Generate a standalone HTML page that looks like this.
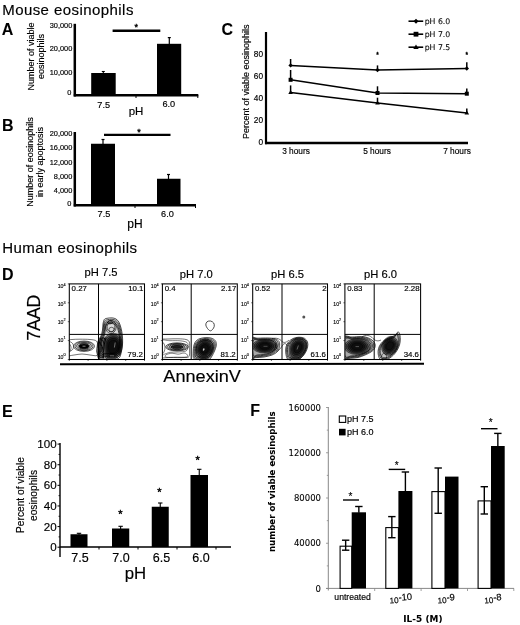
<!DOCTYPE html>
<html><head><meta charset="utf-8"><title>Figure</title>
<style>html,body{margin:0;padding:0;background:#fff}svg{display:block}text{font-family:"Liberation Sans",Arial,sans-serif;stroke:#000;stroke-width:.16px}text.v{font-family:"DejaVu Sans",Verdana,sans-serif;stroke-width:.08px}</style></head>
<body><svg width="520" height="625" viewBox="0 0 520 625">
<rect width="520" height="625" fill="#fff"/>
<text x="2.2" y="14.7" font-size="15" textLength="131.2" lengthAdjust="spacing">Mouse eosinophils</text>
<text x="2.2" y="253.3" font-size="15" textLength="134.8" lengthAdjust="spacing">Human eosinophils</text>
<text x="1.8" y="34.8" font-size="16" font-weight="bold" style="stroke-width:.06px">A</text>
<text x="2" y="131" font-size="16" font-weight="bold" style="stroke-width:.06px">B</text>
<text x="221.5" y="35" font-size="16" font-weight="bold" style="stroke-width:.06px">C</text>
<text x="2" y="279.7" font-size="16" font-weight="bold" style="stroke-width:.06px">D</text>
<text x="2" y="417" font-size="16" font-weight="bold" style="stroke-width:.06px">E</text>
<text x="250.3" y="416" font-size="16" font-weight="bold" style="stroke-width:.06px">F</text>
<line x1="74.8" y1="23.8" x2="74.8" y2="96.5" stroke="#000" stroke-width="2.5" stroke-linecap="butt"/>
<line x1="73.8" y1="95.2" x2="198.3" y2="95.2" stroke="#000" stroke-width="2.5" stroke-linecap="butt"/>
<text x="72.3" y="27.6" font-size="7.4" text-anchor="end">30,000</text>
<text x="72.3" y="51.1" font-size="7.4" text-anchor="end">20,000</text>
<text x="72.3" y="74.6" font-size="7.4" text-anchor="end">10,000</text>
<text x="71.3" y="95.1" font-size="7.4" text-anchor="end">0</text>
<text x="33.5" y="56.5" font-size="9" text-anchor="middle" transform="rotate(-90 33.5 56.5)">Number of viable</text>
<text x="43.9" y="56.4" font-size="9" text-anchor="middle" transform="rotate(-90 43.9 56.4)">eosinophils</text>
<rect x="91.2" y="73" width="24.5" height="22" fill="#000"/>
<line x1="103.3" y1="71.5" x2="103.3" y2="73" stroke="#000" stroke-width="1.1" stroke-linecap="butt"/>
<line x1="101.8" y1="71.5" x2="104.8" y2="71.5" stroke="#000" stroke-width="1.1" stroke-linecap="butt"/>
<rect x="157" y="43.8" width="24.2" height="51" fill="#000"/>
<line x1="169.3" y1="37.6" x2="169.3" y2="45" stroke="#000" stroke-width="1.2" stroke-linecap="butt"/>
<line x1="167.8" y1="37.6" x2="170.8" y2="37.6" stroke="#000" stroke-width="1.2" stroke-linecap="butt"/>
<line x1="112.6" y1="30.8" x2="160.3" y2="30.8" stroke="#000" stroke-width="2.4" stroke-linecap="butt"/>
<text x="136.2" y="29.8" font-size="9" text-anchor="middle" style="stroke-width:.4px">*</text>
<text x="103.7" y="107.5" font-size="9.2" text-anchor="middle">7.5</text>
<text x="168.8" y="107.2" font-size="9.2" text-anchor="middle">6.0</text>
<text x="136" y="114.5" font-size="11.5" text-anchor="middle">pH</text>
<line x1="136" y1="95" x2="136" y2="98" stroke="#000" stroke-width="1" stroke-linecap="butt"/>
<line x1="197.8" y1="95" x2="197.8" y2="98" stroke="#000" stroke-width="1" stroke-linecap="butt"/>
<line x1="74.8" y1="132" x2="74.8" y2="206.5" stroke="#000" stroke-width="2.5" stroke-linecap="butt"/>
<line x1="73.8" y1="205.2" x2="196" y2="205.2" stroke="#000" stroke-width="2.5" stroke-linecap="butt"/>
<text x="72.3" y="136.35" font-size="7.4" text-anchor="end">20,000</text>
<text x="72.3" y="150.1" font-size="7.4" text-anchor="end">16,000</text>
<text x="72.3" y="164.6" font-size="7.4" text-anchor="end">12,000</text>
<text x="72.3" y="178.6" font-size="7.4" text-anchor="end">8,000</text>
<text x="72.3" y="193.1" font-size="7.4" text-anchor="end">4,000</text>
<text x="71.3" y="206.1" font-size="7.4" text-anchor="end">0</text>
<text x="32.8" y="162" font-size="9" text-anchor="middle" transform="rotate(-90 32.8 162)">Number of eosinophils</text>
<text x="42.8" y="162" font-size="9" text-anchor="middle" transform="rotate(-90 42.8 162)">in early apoptosis</text>
<rect x="91" y="143.75" width="24" height="61" fill="#000"/>
<line x1="103" y1="139.5" x2="103" y2="144" stroke="#000" stroke-width="1.2" stroke-linecap="butt"/>
<line x1="101.5" y1="139.5" x2="104.5" y2="139.5" stroke="#000" stroke-width="1.2" stroke-linecap="butt"/>
<rect x="157" y="178.75" width="23.5" height="26" fill="#000"/>
<line x1="168.5" y1="174.5" x2="168.5" y2="179" stroke="#000" stroke-width="1.2" stroke-linecap="butt"/>
<line x1="167.0" y1="174.5" x2="170.0" y2="174.5" stroke="#000" stroke-width="1.2" stroke-linecap="butt"/>
<line x1="104" y1="134.9" x2="170.5" y2="134.9" stroke="#000" stroke-width="2.4" stroke-linecap="butt"/>
<text x="139" y="134.8" font-size="9" text-anchor="middle" style="stroke-width:.4px">*</text>
<text x="104" y="216.5" font-size="9.2" text-anchor="middle">7.5</text>
<text x="167.5" y="216.5" font-size="9.2" text-anchor="middle">6.0</text>
<text x="135" y="227.8" font-size="12" text-anchor="middle">pH</text>
<line x1="135" y1="205" x2="135" y2="208" stroke="#000" stroke-width="1" stroke-linecap="butt"/>
<line x1="195.5" y1="205" x2="195.5" y2="208" stroke="#000" stroke-width="1" stroke-linecap="butt"/>
<line x1="266" y1="32" x2="266" y2="144.2" stroke="#000" stroke-width="2.2" stroke-linecap="butt"/>
<line x1="265" y1="143" x2="468" y2="143" stroke="#000" stroke-width="2.4" stroke-linecap="butt"/>
<text x="263" y="56.9" font-size="8.3" text-anchor="end">80</text>
<text x="263" y="79.3" font-size="8.3" text-anchor="end">60</text>
<text x="263" y="101.2" font-size="8.3" text-anchor="end">40</text>
<text x="263" y="123.1" font-size="8.3" text-anchor="end">20</text>
<text x="263" y="145.4" font-size="8.3" text-anchor="end">0</text>
<text x="249.0" y="81.8" font-size="9" text-anchor="middle" transform="rotate(-90 249.0 81.8)">Percent of viable eosinophils</text>
<polyline points="290.6,65.4 377.5,70 466.8,68.5" fill="none" stroke="#000" stroke-width="1.5"/>
<polyline points="290.6,79.8 377.5,93 466.8,93.7" fill="none" stroke="#000" stroke-width="1.5"/>
<polyline points="290.6,92.5 377.5,103 466.8,113" fill="none" stroke="#000" stroke-width="1.5"/>
<line x1="290.6" y1="59" x2="290.6" y2="65.4" stroke="#000" stroke-width="1.5" stroke-linecap="butt"/>
<path d="M290.6 63.2L292.8 65.4L290.6 67.60000000000001L288.40000000000003 65.4Z"/>
<line x1="377.5" y1="65.4" x2="377.5" y2="70" stroke="#000" stroke-width="1.5" stroke-linecap="butt"/>
<path d="M377.5 67.8L379.7 70L377.5 72.2L375.3 70Z"/>
<line x1="466.8" y1="62.3" x2="466.8" y2="68.5" stroke="#000" stroke-width="1.5" stroke-linecap="butt"/>
<path d="M466.8 66.3L469.0 68.5L466.8 70.7L464.6 68.5Z"/>
<line x1="290.6" y1="70" x2="290.6" y2="79.8" stroke="#000" stroke-width="1.5" stroke-linecap="butt"/>
<rect x="288.6" y="77.8" width="4" height="4" fill="#000"/>
<line x1="377.5" y1="86.3" x2="377.5" y2="93" stroke="#000" stroke-width="1.5" stroke-linecap="butt"/>
<rect x="375.5" y="91" width="4" height="4" fill="#000"/>
<line x1="466.8" y1="88.5" x2="466.8" y2="93.7" stroke="#000" stroke-width="1.5" stroke-linecap="butt"/>
<rect x="464.8" y="91.7" width="4" height="4" fill="#000"/>
<line x1="290.6" y1="85.4" x2="290.6" y2="92.5" stroke="#000" stroke-width="1.5" stroke-linecap="butt"/>
<path d="M290.6 90.0L292.90000000000003 94.0L288.3 94.0Z"/>
<line x1="377.5" y1="97.7" x2="377.5" y2="103" stroke="#000" stroke-width="1.5" stroke-linecap="butt"/>
<path d="M377.5 100.5L379.8 104.5L375.2 104.5Z"/>
<line x1="466.8" y1="108.5" x2="466.8" y2="113" stroke="#000" stroke-width="1.5" stroke-linecap="butt"/>
<path d="M466.8 110.5L469.1 114.5L464.5 114.5Z"/>
<text x="377.5" y="57.15" font-size="6.5" text-anchor="middle" style="stroke-width:.4px">*</text>
<text x="466.7" y="57.15" font-size="6.5" text-anchor="middle" style="stroke-width:.4px">*</text>
<text x="296" y="154" font-size="8.3" text-anchor="middle">3 hours</text>
<text x="377" y="154" font-size="8.3" text-anchor="middle">5 hours</text>
<text x="457" y="154" font-size="8.3" text-anchor="middle">7 hours</text>
<line x1="408.5" y1="21.2" x2="423.2" y2="21.2" stroke="#000" stroke-width="1.6" stroke-linecap="butt"/>
<path d="M416 18.7L418.5 21.2L416 23.7L413.5 21.2Z"/>
<text x="424.7" y="24.0" font-size="7.75" class="v">pH 6.0</text>
<line x1="408.5" y1="34.2" x2="423.2" y2="34.2" stroke="#000" stroke-width="1.6" stroke-linecap="butt"/>
<rect x="413.6" y="31.800000000000004" width="4.8" height="4.8" fill="#000"/>
<text x="424.7" y="37.0" font-size="7.75" class="v">pH 7.0</text>
<line x1="408.5" y1="47.2" x2="423.2" y2="47.2" stroke="#000" stroke-width="1.6" stroke-linecap="butt"/>
<path d="M416 44.400000000000006L418.7 48.900000000000006L413.3 48.900000000000006Z"/>
<text x="424.7" y="50.0" font-size="7.75" class="v">pH 7.5</text>
<text x="40" y="317.7" font-size="18" text-anchor="middle" transform="rotate(-90 40 317.7)" textLength="46" lengthAdjust="spacing">7AAD</text>
<text x="163.3" y="382.1" font-size="17" textLength="77.6" lengthAdjust="spacingAndGlyphs">AnnexinV</text>
<line x1="60" y1="364.3" x2="424" y2="363.8" stroke="#000" stroke-width="1.9" stroke-linecap="butt"/>
<text x="101" y="276.3" font-size="11.2" text-anchor="middle">pH 7.5</text>
<clipPath id="cp0"><rect x="69.3" y="283.9" width="75.2" height="75.60000000000002"/></clipPath><g clip-path="url(#cp0)">
<ellipse cx="84" cy="346.2" rx="10.50" ry="5.20" fill="none" stroke="#000" stroke-width="0.65"/>
<ellipse cx="84" cy="346.2" rx="9.03" ry="4.47" fill="none" stroke="#000" stroke-width="0.65"/>
<ellipse cx="84" cy="346.2" rx="7.56" ry="3.74" fill="none" stroke="#000" stroke-width="0.65"/>
<ellipse cx="84" cy="346.2" rx="6.09" ry="3.02" fill="none" stroke="#000" stroke-width="0.65"/>
<ellipse cx="84" cy="346.2" rx="4.83" ry="2.39" fill="none" stroke="#000" stroke-width="0.65"/>
<ellipse cx="84" cy="346.2" rx="4.80" ry="2.20" fill="#000" stroke="#000" stroke-width="0.55"/>
<line x1="82.5" y1="346.2" x2="85.5" y2="346.2" stroke="#ddd" stroke-width="0.6" stroke-linecap="butt"/>
<path d="M66.00 340.50C66.50 339.92 69.67 339.72 72.00 339.50C74.33 339.28 77.00 339.20 80.00 339.20C83.00 339.20 87.25 339.20 90.00 339.50C92.75 339.80 95.25 339.92 96.50 341.00C97.75 342.08 97.50 344.33 97.50 346.00C97.50 347.67 96.58 349.42 96.50 351.00C96.42 352.58 98.08 354.83 97.00 355.50C95.92 356.17 92.50 355.25 90.00 355.00C87.50 354.75 84.67 354.00 82.00 354.00C79.33 354.00 76.67 354.67 74.00 355.00C71.33 355.33 66.67 356.67 66.00 356.00C65.33 355.33 69.17 352.50 70.00 351.00C70.83 349.50 71.17 348.33 71.00 347.00C70.83 345.67 69.83 344.08 69.00 343.00C68.17 341.92 65.50 341.08 66.00 340.50Z" fill="none" stroke="#000" stroke-width="0.55"/>
<path d="M69.00 342.00C69.67 340.83 72.33 342.83 73.00 344.00C73.67 345.17 73.67 347.83 73.00 349.00C72.33 350.17 69.67 352.17 69.00 351.00C68.33 349.83 68.33 343.17 69.00 342.00Z" fill="none" stroke="#000" stroke-width="0.5"/>
<path d="M107.00 318.30C108.28 318.03 110.50 317.78 112.00 317.90C113.50 318.02 114.83 318.27 116.00 319.00C117.17 319.73 118.17 320.80 119.00 322.30C119.83 323.80 120.45 325.88 121.00 328.00C121.55 330.12 122.03 332.50 122.30 335.00C122.57 337.50 122.73 340.33 122.60 343.00C122.47 345.67 122.18 348.42 121.50 351.00C120.82 353.58 120.75 357.08 118.50 358.50C116.25 359.92 111.25 359.50 108.00 359.50C104.75 359.50 100.78 359.75 99.00 358.50C97.22 357.25 97.58 354.25 97.30 352.00C97.02 349.75 97.10 347.00 97.30 345.00C97.50 343.00 97.88 341.50 98.50 340.00C99.12 338.50 100.33 337.67 101.00 336.00C101.67 334.33 102.17 332.00 102.50 330.00C102.83 328.00 102.70 325.75 103.00 324.00C103.30 322.25 103.63 320.45 104.30 319.50C104.97 318.55 105.72 318.57 107.00 318.30Z" fill="none" stroke="#000" stroke-width="0.7"/>
<path d="M107.31 319.68C108.51 319.43 110.57 319.20 111.97 319.31C113.36 319.42 114.60 319.65 115.69 320.33C116.77 321.01 117.70 322.00 118.47 323.40C119.25 324.79 119.82 326.73 120.34 328.70C120.85 330.67 121.30 332.88 121.54 335.21C121.79 337.53 121.95 340.17 121.82 342.65C121.70 345.13 121.44 347.69 120.80 350.09C120.16 352.49 120.10 355.75 118.01 357.06C115.92 358.38 111.27 358.00 108.25 358.00C105.22 358.00 101.53 358.23 99.88 357.06C98.22 355.90 98.56 353.11 98.29 351.02C98.03 348.93 98.11 346.37 98.29 344.51C98.48 342.65 98.84 341.25 99.41 339.86C99.98 338.47 101.11 337.69 101.73 336.14C102.36 334.59 102.82 332.42 103.13 330.56C103.44 328.70 103.32 326.61 103.59 324.98C103.87 323.35 104.18 321.68 104.80 320.80C105.42 319.91 106.12 319.93 107.31 319.68Z" fill="rgba(0,0,0,0.04)" stroke="#000" stroke-width="0.7"/>
<path d="M107.63 321.06C108.73 320.83 110.64 320.61 111.93 320.71C113.22 320.81 114.37 321.03 115.37 321.66C116.37 322.29 117.23 323.21 117.95 324.50C118.67 325.79 119.20 327.58 119.67 329.40C120.14 331.22 120.56 333.27 120.79 335.42C121.02 337.57 121.16 340.01 121.05 342.30C120.93 344.59 120.69 346.96 120.10 349.18C119.51 351.40 119.45 354.41 117.52 355.63C115.58 356.85 111.28 356.49 108.49 356.49C105.69 356.49 102.28 356.70 100.75 355.63C99.22 354.56 99.53 351.98 99.29 350.04C99.04 348.11 99.12 345.74 99.29 344.02C99.46 342.30 99.79 341.01 100.32 339.72C100.85 338.43 101.90 337.71 102.47 336.28C103.04 334.85 103.47 332.84 103.76 331.12C104.05 329.40 103.93 327.46 104.19 325.96C104.45 324.45 104.73 322.91 105.31 322.09C105.88 321.27 106.53 321.29 107.63 321.06Z" fill="rgba(0,0,0,0.04)" stroke="#000" stroke-width="0.7"/>
<path d="M107.94 322.44C108.96 322.23 110.71 322.03 111.89 322.12C113.08 322.21 114.13 322.41 115.06 322.99C115.98 323.57 116.77 324.41 117.42 325.60C118.08 326.78 118.57 328.43 119.00 330.10C119.44 331.77 119.82 333.65 120.03 335.63C120.24 337.61 120.37 339.84 120.27 341.95C120.16 344.06 119.94 346.23 119.40 348.27C118.86 350.31 118.81 353.08 117.03 354.19C115.25 355.31 111.30 354.99 108.73 354.99C106.17 354.99 103.03 355.18 101.62 354.19C100.22 353.21 100.51 350.84 100.28 349.06C100.06 347.28 100.12 345.11 100.28 343.53C100.44 341.95 100.74 340.76 101.23 339.58C101.72 338.39 102.68 337.74 103.20 336.42C103.73 335.10 104.13 333.26 104.39 331.68C104.65 330.10 104.55 328.32 104.78 326.94C105.02 325.56 105.29 324.14 105.81 323.38C106.34 322.63 106.93 322.65 107.94 322.44Z" fill="rgba(0,0,0,0.04)" stroke="#000" stroke-width="0.7"/>
<path d="M108.26 323.82C109.18 323.62 110.78 323.44 111.86 323.53C112.94 323.61 113.90 323.79 114.74 324.32C115.58 324.85 116.30 325.62 116.90 326.70C117.50 327.78 117.94 329.28 118.34 330.80C118.74 332.32 119.08 334.04 119.28 335.84C119.47 337.64 119.59 339.68 119.49 341.60C119.40 343.52 119.19 345.50 118.70 347.36C118.21 349.22 118.16 351.74 116.54 352.76C114.92 353.78 111.32 353.48 108.98 353.48C106.64 353.48 103.78 353.66 102.50 352.76C101.22 351.86 101.48 349.70 101.28 348.08C101.07 346.46 101.13 344.48 101.28 343.04C101.42 341.60 101.70 340.52 102.14 339.44C102.58 338.36 103.46 337.76 103.94 336.56C104.42 335.36 104.78 333.68 105.02 332.24C105.26 330.80 105.16 329.18 105.38 327.92C105.60 326.66 105.84 325.36 106.32 324.68C106.80 324.00 107.34 324.01 108.26 323.82Z" fill="rgba(0,0,0,0.04)" stroke="#000" stroke-width="0.7"/>
<ellipse cx="111" cy="327" rx="5.20" ry="6.50" fill="none" stroke="#000" stroke-width="0.6" transform="rotate(5 111 327)"/>
<ellipse cx="111" cy="327" rx="3.90" ry="4.88" fill="none" stroke="#000" stroke-width="0.6" transform="rotate(5 111 327)"/>
<ellipse cx="110" cy="322.3" rx="2.30" ry="1.60" fill="none" stroke="#000" stroke-width="0.55"/>
<ellipse cx="111.5" cy="329.5" rx="2.60" ry="2.20" fill="none" stroke="#000" stroke-width="0.55"/>
<path d="M105.50 337.00C106.75 335.30 108.95 334.23 111.00 333.80C113.05 333.37 116.00 333.37 117.80 334.40C119.60 335.43 121.10 337.73 121.80 340.00C122.50 342.27 122.38 345.42 122.00 348.00C121.62 350.58 120.83 353.67 119.50 355.50C118.17 357.33 116.17 358.45 114.00 359.00C111.83 359.55 108.20 359.97 106.50 358.80C104.80 357.63 104.30 354.47 103.80 352.00C103.30 349.53 103.22 346.50 103.50 344.00C103.78 341.50 104.25 338.70 105.50 337.00Z" fill="rgba(0,0,0,0.42)" stroke="#000" stroke-width="0.5"/>
<path d="M106.46 338.20C107.56 336.70 109.50 335.77 111.30 335.38C113.10 335.00 115.70 335.00 117.28 335.91C118.87 336.82 120.19 338.85 120.80 340.84C121.42 342.83 121.32 345.61 120.98 347.88C120.64 350.15 119.95 352.87 118.78 354.48C117.61 356.09 115.85 357.08 113.94 357.56C112.03 358.04 108.84 358.41 107.34 357.38C105.84 356.36 105.40 353.57 104.96 351.40C104.52 349.23 104.45 346.56 104.70 344.36C104.95 342.16 105.36 339.70 106.46 338.20Z" fill="rgba(0,0,0,0.42)" stroke="#000" stroke-width="0.5"/>
<path d="M107.42 339.40C108.37 338.11 110.04 337.30 111.60 336.97C113.16 336.64 115.40 336.64 116.77 337.42C118.14 338.21 119.28 339.96 119.81 341.68C120.34 343.40 120.25 345.80 119.96 347.76C119.67 349.72 119.07 352.07 118.06 353.46C117.05 354.85 115.53 355.70 113.88 356.12C112.23 356.54 109.47 356.85 108.18 355.97C106.89 355.08 106.51 352.67 106.13 350.80C105.75 348.93 105.68 346.62 105.90 344.72C106.12 342.82 106.47 340.69 107.42 339.40Z" fill="rgba(0,0,0,0.42)" stroke="#000" stroke-width="0.5"/>
<path d="M108.38 340.60C109.18 339.51 110.59 338.83 111.90 338.55C113.21 338.27 115.10 338.27 116.25 338.94C117.40 339.60 118.36 341.07 118.81 342.52C119.26 343.97 119.19 345.99 118.94 347.64C118.69 349.29 118.19 351.27 117.34 352.44C116.49 353.61 115.21 354.33 113.82 354.68C112.43 355.03 110.11 355.30 109.02 354.55C107.93 353.81 107.61 351.78 107.29 350.20C106.97 348.62 106.92 346.68 107.10 345.08C107.28 343.48 107.58 341.69 108.38 340.60Z" fill="rgba(0,0,0,0.42)" stroke="#000" stroke-width="0.5"/>
<path d="M109.50 342.00C110.12 341.15 111.22 340.62 112.25 340.40C113.28 340.18 114.75 340.18 115.65 340.70C116.55 341.22 117.30 342.37 117.65 343.50C118.00 344.63 117.94 346.21 117.75 347.50C117.56 348.79 117.17 350.33 116.50 351.25C115.83 352.17 114.83 352.73 113.75 353.00C112.67 353.27 110.85 353.48 110.00 352.90C109.15 352.32 108.90 350.73 108.65 349.50C108.40 348.27 108.36 346.75 108.50 345.50C108.64 344.25 108.88 342.85 109.50 342.00Z" fill="rgba(0,0,0,0.42)" stroke="#000" stroke-width="0.5"/>
<path d="M98.4 358.5 C97.80000000000001 350 98.9 343 100.9 337.5" fill="none" stroke="#000" stroke-width="0.95"/>
<path d="M99.7 358.5 C99.10000000000001 350 100.2 343 102.2 337.5" fill="none" stroke="#000" stroke-width="0.95"/>
<path d="M101 358.5 C100.4 350 101.5 343 103.5 337.5" fill="none" stroke="#000" stroke-width="0.95"/>
<path d="M102.3 358.5 C101.7 350 102.8 343 104.8 337.5" fill="none" stroke="#000" stroke-width="0.95"/>
<path d="M103.6 358.5 C103.0 350 104.1 343 106.1 337.5" fill="none" stroke="#000" stroke-width="0.95"/>
<path d="M115.2 342.5 L114.4 347.5" stroke="#999" stroke-width="0.7" fill="none"/>
<path d="M110 355.8 L114 355.8" stroke="#999" stroke-width="0.6" fill="none"/>
</g>
<rect x="69.3" y="283.9" width="75.2" height="75.60000000000002" fill="none" stroke="#000" stroke-width="1.05"/>
<line x1="98.5" y1="283.9" x2="98.5" y2="359.5" stroke="#000" stroke-width="1.0" stroke-linecap="butt"/>
<line x1="69.3" y1="334.4" x2="144.5" y2="334.4" stroke="#000" stroke-width="1.0" stroke-linecap="butt"/>
<text x="71.6" y="291.1" font-size="7.85">0.27</text>
<text x="143.5" y="291.1" font-size="7.85" text-anchor="end">10.1</text>
<rect x="128.0" y="350.8" width="15.8" height="8.2" fill="#fff"/>
<text x="142.9" y="357.4" font-size="7.85" text-anchor="end">79.2</text>
<text x="57.699999999999996" y="288.3" font-size="5.2" style="stroke-width:.12px">10</text>
<text x="63.4" y="285.6" font-size="3.8" style="stroke-width:.12px">4</text>
<text x="57.699999999999996" y="306.2" font-size="5.2" style="stroke-width:.12px">10</text>
<text x="63.4" y="303.5" font-size="3.8" style="stroke-width:.12px">3</text>
<text x="57.699999999999996" y="324.1" font-size="5.2" style="stroke-width:.12px">10</text>
<text x="63.4" y="321.40000000000003" font-size="3.8" style="stroke-width:.12px">2</text>
<text x="57.699999999999996" y="342.1" font-size="5.2" style="stroke-width:.12px">10</text>
<text x="63.4" y="339.40000000000003" font-size="3.8" style="stroke-width:.12px">1</text>
<text x="57.699999999999996" y="358.90000000000003" font-size="5.2" style="stroke-width:.12px">10</text>
<text x="63.4" y="356.20000000000005" font-size="3.8" style="stroke-width:.12px">0</text>
<line x1="67.8" y1="359.5" x2="69.3" y2="359.5" stroke="#000" stroke-width="0.6" stroke-linecap="butt"/>
<line x1="69.3" y1="359.5" x2="69.3" y2="361.0" stroke="#000" stroke-width="0.6" stroke-linecap="butt"/>
<line x1="67.8" y1="340.6" x2="69.3" y2="340.6" stroke="#000" stroke-width="0.6" stroke-linecap="butt"/>
<line x1="88.1" y1="359.5" x2="88.1" y2="361.0" stroke="#000" stroke-width="0.6" stroke-linecap="butt"/>
<line x1="67.8" y1="321.7" x2="69.3" y2="321.7" stroke="#000" stroke-width="0.6" stroke-linecap="butt"/>
<line x1="106.9" y1="359.5" x2="106.9" y2="361.0" stroke="#000" stroke-width="0.6" stroke-linecap="butt"/>
<line x1="67.8" y1="302.79999999999995" x2="69.3" y2="302.79999999999995" stroke="#000" stroke-width="0.6" stroke-linecap="butt"/>
<line x1="125.7" y1="359.5" x2="125.7" y2="361.0" stroke="#000" stroke-width="0.6" stroke-linecap="butt"/>
<line x1="67.8" y1="283.9" x2="69.3" y2="283.9" stroke="#000" stroke-width="0.6" stroke-linecap="butt"/>
<line x1="144.5" y1="359.5" x2="144.5" y2="361.0" stroke="#000" stroke-width="0.6" stroke-linecap="butt"/>
<text x="196.25" y="277.9" font-size="11.2" text-anchor="middle">pH 7.0</text>
<clipPath id="cp1"><rect x="162.4" y="283.9" width="74.9" height="75.60000000000002"/></clipPath><g clip-path="url(#cp1)">
<path d="M207.00 321.80C207.78 321.13 209.38 320.80 210.50 321.00C211.62 321.20 213.08 322.08 213.70 323.00C214.32 323.92 214.40 325.42 214.20 326.50C214.00 327.58 213.17 328.78 212.50 329.50C211.83 330.22 211.03 330.97 210.20 330.80C209.37 330.63 208.23 329.47 207.50 328.50C206.77 327.53 205.88 326.12 205.80 325.00C205.72 323.88 206.22 322.47 207.00 321.80Z" fill="none" stroke="#000" stroke-width="0.7"/>
<ellipse cx="177" cy="346.9" rx="11.20" ry="4.00" fill="none" stroke="#000" stroke-width="0.75"/>
<ellipse cx="177" cy="346.9" rx="9.41" ry="3.36" fill="none" stroke="#000" stroke-width="0.75"/>
<ellipse cx="177" cy="346.9" rx="7.62" ry="2.72" fill="none" stroke="#000" stroke-width="0.75"/>
<ellipse cx="177" cy="346.9" rx="5.82" ry="2.08" fill="none" stroke="#000" stroke-width="0.75"/>
<ellipse cx="177" cy="346.9" rx="4.03" ry="1.44" fill="none" stroke="#000" stroke-width="0.75"/>
<ellipse cx="177" cy="346.9" rx="6.50" ry="1.20" fill="#222" stroke="#000" stroke-width="0.55"/>
<path d="M160.00 339.50C160.75 338.83 165.00 339.12 168.00 339.00C171.00 338.88 175.00 338.72 178.00 338.80C181.00 338.88 184.12 338.97 186.00 339.50C187.88 340.03 188.70 340.42 189.30 342.00C189.90 343.58 189.65 346.58 189.60 349.00C189.55 351.42 189.93 355.08 189.00 356.50C188.07 357.92 187.17 357.33 184.00 357.50C180.83 357.67 174.00 357.50 170.00 357.50C166.00 357.50 161.00 358.42 160.00 357.50C159.00 356.58 163.17 353.75 164.00 352.00C164.83 350.25 165.08 348.50 165.00 347.00C164.92 345.50 164.33 344.25 163.50 343.00C162.67 341.75 159.25 340.17 160.00 339.50Z" fill="none" stroke="#000" stroke-width="0.55"/>
<path d="M160.00 341.00C161.67 338.62 166.67 340.73 170.00 340.70C173.33 340.67 177.17 340.50 180.00 340.80C182.83 341.10 185.67 341.47 187.00 342.50C188.33 343.53 188.17 345.58 188.00 347.00C187.83 348.42 187.67 350.17 186.00 351.00C184.33 351.83 180.67 351.78 178.00 352.00C175.33 352.22 172.17 351.97 170.00 352.30C167.83 352.63 166.67 353.55 165.00 354.00C163.33 354.45 160.83 357.17 160.00 355.00C159.17 352.83 158.33 343.38 160.00 341.00Z" fill="none" stroke="#000" stroke-width="0.5"/>
<path d="M166.00 354.80C167.00 354.13 170.00 353.30 172.00 353.20C174.00 353.10 176.00 354.23 178.00 354.20C180.00 354.17 182.50 352.95 184.00 353.00C185.50 353.05 186.58 353.83 187.00 354.50C187.42 355.17 188.33 356.55 186.50 357.00C184.67 357.45 179.42 357.17 176.00 357.20C172.58 357.23 167.67 357.60 166.00 357.20C164.33 356.80 165.00 355.47 166.00 354.80Z" fill="none" stroke="#000" stroke-width="0.5"/>
<path d="M194.00 358.80C192.70 357.47 193.20 354.30 193.20 352.00C193.20 349.70 193.45 346.92 194.00 345.00C194.55 343.08 195.33 341.62 196.50 340.50C197.67 339.38 199.25 338.78 201.00 338.30C202.75 337.82 205.08 337.57 207.00 337.60C208.92 337.63 211.03 337.85 212.50 338.50C213.97 339.15 215.18 340.25 215.80 341.50C216.42 342.75 216.42 344.42 216.20 346.00C215.98 347.58 215.20 349.33 214.50 351.00C213.80 352.67 212.92 354.58 212.00 356.00C211.08 357.42 210.83 358.83 209.00 359.50C207.17 360.17 203.50 360.12 201.00 360.00C198.50 359.88 195.30 360.13 194.00 358.80Z" fill="none" stroke="#000" stroke-width="0.7"/>
<path d="M194.90 357.92C193.72 356.70 194.17 353.82 194.17 351.73C194.17 349.64 194.40 347.10 194.90 345.36C195.40 343.62 196.11 342.28 197.18 341.26C198.24 340.25 199.68 339.70 201.27 339.26C202.86 338.82 204.99 338.60 206.73 338.63C208.47 338.66 210.40 338.85 211.74 339.44C213.07 340.04 214.18 341.04 214.74 342.18C215.30 343.31 215.30 344.83 215.10 346.27C214.90 347.71 214.19 349.30 213.56 350.82C212.92 352.34 212.11 354.08 211.28 355.37C210.45 356.66 210.22 357.95 208.55 358.56C206.88 359.16 203.55 359.12 201.27 359.01C199.00 358.90 196.08 359.13 194.90 357.92Z" fill="rgba(0,0,0,0.13)" stroke="#000" stroke-width="0.7"/>
<path d="M195.80 357.04C194.73 355.94 195.14 353.35 195.14 351.46C195.14 349.57 195.35 347.29 195.80 345.72C196.25 344.15 196.89 342.95 197.85 342.03C198.81 341.11 200.10 340.62 201.54 340.23C202.97 339.83 204.89 339.62 206.46 339.65C208.03 339.68 209.77 339.86 210.97 340.39C212.17 340.92 213.17 341.83 213.68 342.85C214.18 343.88 214.18 345.24 214.00 346.54C213.83 347.84 213.18 349.27 212.61 350.64C212.04 352.01 211.31 353.58 210.56 354.74C209.81 355.90 209.60 357.06 208.10 357.61C206.60 358.16 203.59 358.12 201.54 358.02C199.49 357.92 196.87 358.13 195.80 357.04Z" fill="rgba(0,0,0,0.13)" stroke="#000" stroke-width="0.7"/>
<path d="M196.70 356.15C195.75 355.18 196.12 352.87 196.12 351.19C196.12 349.51 196.30 347.48 196.70 346.08C197.10 344.68 197.67 343.61 198.53 342.80C199.38 341.98 200.53 341.54 201.81 341.19C203.09 340.84 204.79 340.65 206.19 340.68C207.59 340.70 209.13 340.86 210.21 341.33C211.28 341.81 212.16 342.61 212.61 343.52C213.06 344.44 213.06 345.65 212.91 346.81C212.75 347.97 212.18 349.24 211.66 350.46C211.15 351.68 210.51 353.08 209.84 354.11C209.17 355.14 208.99 356.18 207.65 356.67C206.31 357.15 203.63 357.12 201.81 357.03C199.99 356.94 197.65 357.13 196.70 356.15Z" fill="rgba(0,0,0,0.13)" stroke="#000" stroke-width="0.7"/>
<ellipse cx="204.6" cy="348.9" rx="8.60" ry="10.20" fill="rgba(0,0,0,0.38)" stroke="#000" stroke-width="0.5" transform="rotate(20 204.6 348.9)"/>
<ellipse cx="204.6" cy="348.9" rx="7.40" ry="8.77" fill="rgba(0,0,0,0.38)" stroke="#000" stroke-width="0.5" transform="rotate(20 204.6 348.9)"/>
<ellipse cx="204.6" cy="348.9" rx="6.19" ry="7.34" fill="rgba(0,0,0,0.38)" stroke="#000" stroke-width="0.5" transform="rotate(20 204.6 348.9)"/>
<ellipse cx="204.6" cy="348.9" rx="4.99" ry="5.92" fill="rgba(0,0,0,0.38)" stroke="#000" stroke-width="0.5" transform="rotate(20 204.6 348.9)"/>
<ellipse cx="204.6" cy="348.9" rx="3.78" ry="4.49" fill="rgba(0,0,0,0.38)" stroke="#000" stroke-width="0.5" transform="rotate(20 204.6 348.9)"/>
<ellipse cx="203.7" cy="349.5" rx="0.70" ry="1.20" fill="#ccc" stroke="#ccc" stroke-width="0.2" transform="rotate(22 203.7 349.5)"/>
</g>
<rect x="162.4" y="283.9" width="74.9" height="75.60000000000002" fill="none" stroke="#000" stroke-width="1.05"/>
<line x1="191.2" y1="283.9" x2="191.2" y2="359.5" stroke="#000" stroke-width="1.0" stroke-linecap="butt"/>
<line x1="162.4" y1="334.4" x2="237.3" y2="334.4" stroke="#000" stroke-width="1.0" stroke-linecap="butt"/>
<text x="164.70000000000002" y="291.1" font-size="7.85">0.4</text>
<text x="236.3" y="291.1" font-size="7.85" text-anchor="end">2.17</text>
<rect x="220.8" y="350.8" width="15.8" height="8.2" fill="#fff"/>
<text x="235.70000000000002" y="357.4" font-size="7.85" text-anchor="end">81.2</text>
<text x="150.8" y="288.3" font-size="5.2" style="stroke-width:.12px">10</text>
<text x="156.5" y="285.6" font-size="3.8" style="stroke-width:.12px">4</text>
<text x="150.8" y="306.2" font-size="5.2" style="stroke-width:.12px">10</text>
<text x="156.5" y="303.5" font-size="3.8" style="stroke-width:.12px">3</text>
<text x="150.8" y="324.1" font-size="5.2" style="stroke-width:.12px">10</text>
<text x="156.5" y="321.40000000000003" font-size="3.8" style="stroke-width:.12px">2</text>
<text x="150.8" y="342.1" font-size="5.2" style="stroke-width:.12px">10</text>
<text x="156.5" y="339.40000000000003" font-size="3.8" style="stroke-width:.12px">1</text>
<text x="150.8" y="358.90000000000003" font-size="5.2" style="stroke-width:.12px">10</text>
<text x="156.5" y="356.20000000000005" font-size="3.8" style="stroke-width:.12px">0</text>
<line x1="160.9" y1="359.5" x2="162.4" y2="359.5" stroke="#000" stroke-width="0.6" stroke-linecap="butt"/>
<line x1="162.4" y1="359.5" x2="162.4" y2="361.0" stroke="#000" stroke-width="0.6" stroke-linecap="butt"/>
<line x1="160.9" y1="340.6" x2="162.4" y2="340.6" stroke="#000" stroke-width="0.6" stroke-linecap="butt"/>
<line x1="181.125" y1="359.5" x2="181.125" y2="361.0" stroke="#000" stroke-width="0.6" stroke-linecap="butt"/>
<line x1="160.9" y1="321.7" x2="162.4" y2="321.7" stroke="#000" stroke-width="0.6" stroke-linecap="butt"/>
<line x1="199.85000000000002" y1="359.5" x2="199.85000000000002" y2="361.0" stroke="#000" stroke-width="0.6" stroke-linecap="butt"/>
<line x1="160.9" y1="302.79999999999995" x2="162.4" y2="302.79999999999995" stroke="#000" stroke-width="0.6" stroke-linecap="butt"/>
<line x1="218.57500000000002" y1="359.5" x2="218.57500000000002" y2="361.0" stroke="#000" stroke-width="0.6" stroke-linecap="butt"/>
<line x1="160.9" y1="283.9" x2="162.4" y2="283.9" stroke="#000" stroke-width="0.6" stroke-linecap="butt"/>
<line x1="237.3" y1="359.5" x2="237.3" y2="361.0" stroke="#000" stroke-width="0.6" stroke-linecap="butt"/>
<text x="287.5" y="277.9" font-size="11.2" text-anchor="middle">pH 6.5</text>
<clipPath id="cp2"><rect x="252.7" y="283.9" width="74.80000000000001" height="75.60000000000002"/></clipPath><g clip-path="url(#cp2)">
<circle cx="303.8" cy="317" r="1.5" fill="#555"/>
<path d="M250.00 338.80C251.33 335.53 255.00 338.33 258.00 338.20C261.00 338.07 265.17 337.90 268.00 338.00C270.83 338.10 273.17 338.22 275.00 338.80C276.83 339.38 278.25 340.22 279.00 341.50C279.75 342.78 279.75 344.83 279.50 346.50C279.25 348.17 278.75 350.08 277.50 351.50C276.25 352.92 274.25 354.08 272.00 355.00C269.75 355.92 266.67 356.57 264.00 357.00C261.33 357.43 258.33 357.47 256.00 357.60C253.67 357.73 251.00 360.93 250.00 357.80C249.00 354.67 248.67 342.07 250.00 338.80Z" fill="none" stroke="#000" stroke-width="0.7"/>
<path d="M251.04 339.42C252.27 336.41 255.64 338.99 258.40 338.86C261.16 338.74 264.99 338.59 267.60 338.68C270.21 338.77 272.35 338.88 274.04 339.42C275.73 339.95 277.03 340.72 277.72 341.90C278.41 343.08 278.41 344.97 278.18 346.50C277.95 348.03 277.49 349.80 276.34 351.10C275.19 352.40 273.35 353.48 271.28 354.32C269.21 355.16 266.37 355.76 263.92 356.16C261.47 356.56 258.71 356.59 256.56 356.71C254.41 356.83 251.96 359.78 251.04 356.90C250.12 354.01 249.81 342.42 251.04 339.42Z" fill="rgba(0,0,0,0.13)" stroke="#000" stroke-width="0.7"/>
<path d="M252.08 340.03C253.20 337.29 256.28 339.64 258.80 339.53C261.32 339.42 264.82 339.28 267.20 339.36C269.58 339.44 271.54 339.54 273.08 340.03C274.62 340.52 275.81 341.22 276.44 342.30C277.07 343.38 277.07 345.10 276.86 346.50C276.65 347.90 276.23 349.51 275.18 350.70C274.13 351.89 272.45 352.87 270.56 353.64C268.67 354.41 266.08 354.96 263.84 355.32C261.60 355.68 259.08 355.71 257.12 355.82C255.16 355.94 252.92 358.62 252.08 355.99C251.24 353.36 250.96 342.78 252.08 340.03Z" fill="rgba(0,0,0,0.13)" stroke="#000" stroke-width="0.7"/>
<path d="M253.12 340.65C254.13 338.17 256.92 340.29 259.20 340.19C261.48 340.09 264.65 339.96 266.80 340.04C268.95 340.12 270.73 340.20 272.12 340.65C273.51 341.09 274.59 341.72 275.16 342.70C275.73 343.68 275.73 345.23 275.54 346.50C275.35 347.77 274.97 349.22 274.02 350.30C273.07 351.38 271.55 352.26 269.84 352.96C268.13 353.66 265.79 354.15 263.76 354.48C261.73 354.81 259.45 354.83 257.68 354.94C255.91 355.04 253.88 357.47 253.12 355.09C252.36 352.71 252.11 343.13 253.12 340.65Z" fill="rgba(0,0,0,0.13)" stroke="#000" stroke-width="0.7"/>
<ellipse cx="264.8" cy="346.3" rx="12.60" ry="6.80" fill="rgba(0,0,0,0.38)" stroke="#000" stroke-width="0.5"/>
<ellipse cx="264.8" cy="346.3" rx="10.84" ry="5.85" fill="rgba(0,0,0,0.38)" stroke="#000" stroke-width="0.5"/>
<ellipse cx="264.8" cy="346.3" rx="9.07" ry="4.90" fill="rgba(0,0,0,0.38)" stroke="#000" stroke-width="0.5"/>
<ellipse cx="264.8" cy="346.3" rx="7.31" ry="3.94" fill="rgba(0,0,0,0.38)" stroke="#000" stroke-width="0.5"/>
<ellipse cx="264.8" cy="346.3" rx="5.54" ry="2.99" fill="rgba(0,0,0,0.38)" stroke="#000" stroke-width="0.5"/>
<line x1="263.5" y1="346.3" x2="267.5" y2="346.3" stroke="#888" stroke-width="0.5" stroke-linecap="butt"/>
<path d="M272 338.5 C277 337.5 280 339 282 341.5 C284 343.5 287 342 289 340" fill="none" stroke="#000" stroke-width="0.55"/>
<path d="M276 352 C280 350 281.5 347 283 344.5 C284.5 343 286 343.5 287 345" fill="none" stroke="#000" stroke-width="0.55"/>
<path d="M287.50 359.00C286.47 357.83 286.05 355.00 285.80 353.00C285.55 351.00 285.55 348.83 286.00 347.00C286.45 345.17 287.33 343.42 288.50 342.00C289.67 340.58 291.25 339.30 293.00 338.50C294.75 337.70 297.08 337.23 299.00 337.20C300.92 337.17 303.08 337.50 304.50 338.30C305.92 339.10 306.98 340.55 307.50 342.00C308.02 343.45 307.93 345.25 307.60 347.00C307.27 348.75 306.43 350.83 305.50 352.50C304.57 354.17 303.25 355.75 302.00 357.00C300.75 358.25 299.67 359.50 298.00 360.00C296.33 360.50 293.75 360.17 292.00 360.00C290.25 359.83 288.53 360.17 287.50 359.00Z" fill="none" stroke="#000" stroke-width="0.7"/>
<path d="M288.26 358.12C287.31 357.05 286.93 354.44 286.70 352.60C286.47 350.76 286.47 348.77 286.88 347.08C287.29 345.39 288.11 343.78 289.18 342.48C290.25 341.18 291.71 340.00 293.32 339.26C294.93 338.52 297.08 338.09 298.84 338.06C300.60 338.03 302.60 338.34 303.90 339.08C305.20 339.81 306.18 341.15 306.66 342.48C307.14 343.81 307.06 345.47 306.75 347.08C306.45 348.69 305.68 350.61 304.82 352.14C303.96 353.67 302.75 355.13 301.60 356.28C300.45 357.43 299.45 358.58 297.92 359.04C296.39 359.50 294.01 359.19 292.40 359.04C290.79 358.89 289.21 359.19 288.26 358.12Z" fill="rgba(0,0,0,0.13)" stroke="#000" stroke-width="0.7"/>
<path d="M289.02 357.24C288.15 356.26 287.80 353.88 287.59 352.20C287.38 350.52 287.38 348.70 287.76 347.16C288.14 345.62 288.88 344.15 289.86 342.96C290.84 341.77 292.17 340.69 293.64 340.02C295.11 339.35 297.07 338.96 298.68 338.93C300.29 338.90 302.11 339.18 303.30 339.85C304.49 340.52 305.39 341.74 305.82 342.96C306.25 344.18 306.18 345.69 305.90 347.16C305.62 348.63 304.92 350.38 304.14 351.78C303.36 353.18 302.25 354.51 301.20 355.56C300.15 356.61 299.24 357.66 297.84 358.08C296.44 358.50 294.27 358.22 292.80 358.08C291.33 357.94 289.89 358.22 289.02 357.24Z" fill="rgba(0,0,0,0.13)" stroke="#000" stroke-width="0.7"/>
<path d="M291.00 358.50C289.50 357.12 289.17 353.33 289.00 351.00C288.83 348.67 289.20 346.42 290.00 344.50C290.80 342.58 292.30 340.62 293.80 339.50C295.30 338.38 297.25 337.83 299.00 337.80C300.75 337.77 303.03 338.27 304.30 339.30C305.57 340.33 306.35 342.22 306.60 344.00C306.85 345.78 306.40 348.08 305.80 350.00C305.20 351.92 304.30 353.95 303.00 355.50C301.70 357.05 300.00 358.80 298.00 359.30C296.00 359.80 292.50 359.88 291.00 358.50Z" fill="rgba(0,0,0,0.38)" stroke="#000" stroke-width="0.5"/>
<path d="M291.98 356.96C290.69 355.77 290.40 352.52 290.26 350.51C290.12 348.50 290.43 346.57 291.12 344.92C291.81 343.27 293.10 341.58 294.39 340.62C295.68 339.66 297.36 339.19 298.86 339.16C300.37 339.13 302.33 339.56 303.42 340.45C304.51 341.34 305.18 342.96 305.40 344.49C305.61 346.02 305.22 348.00 304.71 349.65C304.19 351.30 303.42 353.05 302.30 354.38C301.18 355.71 299.72 357.22 298.00 357.65C296.28 358.08 293.27 358.15 291.98 356.96Z" fill="rgba(0,0,0,0.38)" stroke="#000" stroke-width="0.5"/>
<path d="M292.96 355.42C291.88 354.42 291.64 351.70 291.52 350.02C291.40 348.34 291.66 346.72 292.24 345.34C292.82 343.96 293.90 342.54 294.98 341.74C296.06 340.94 297.46 340.54 298.72 340.52C299.98 340.49 301.62 340.85 302.54 341.60C303.45 342.34 304.01 343.70 304.19 344.98C304.37 346.26 304.05 347.92 303.62 349.30C303.18 350.68 302.54 352.14 301.60 353.26C300.66 354.38 299.44 355.64 298.00 356.00C296.56 356.36 294.04 356.42 292.96 355.42Z" fill="rgba(0,0,0,0.38)" stroke="#000" stroke-width="0.5"/>
<path d="M293.94 353.88C293.07 353.08 292.88 350.88 292.78 349.53C292.68 348.18 292.90 346.87 293.36 345.76C293.82 344.65 294.69 343.51 295.56 342.86C296.43 342.21 297.56 341.89 298.58 341.87C299.59 341.85 300.92 342.14 301.65 342.74C302.39 343.34 302.84 344.44 302.99 345.47C303.13 346.50 302.87 347.84 302.52 348.95C302.18 350.06 301.65 351.24 300.90 352.14C300.15 353.04 299.16 354.05 298.00 354.34C296.84 354.63 294.81 354.68 293.94 353.88Z" fill="rgba(0,0,0,0.38)" stroke="#000" stroke-width="0.5"/>
<path d="M294.92 352.34C294.26 351.73 294.11 350.07 294.04 349.04C293.97 348.01 294.13 347.02 294.48 346.18C294.83 345.34 295.49 344.47 296.15 343.98C296.81 343.49 297.67 343.25 298.44 343.23C299.21 343.22 300.21 343.44 300.77 343.89C301.33 344.35 301.67 345.18 301.78 345.96C301.89 346.74 301.70 347.76 301.43 348.60C301.17 349.44 300.77 350.34 300.20 351.02C299.63 351.70 298.88 352.47 298.00 352.69C297.12 352.91 295.58 352.95 294.92 352.34Z" fill="rgba(0,0,0,0.38)" stroke="#000" stroke-width="0.5"/>
<path d="M298.4 345.5 L297 349.5" stroke="#999" stroke-width="0.6" fill="none"/>
</g>
<rect x="252.7" y="283.9" width="74.80000000000001" height="75.60000000000002" fill="none" stroke="#000" stroke-width="1.05"/>
<line x1="282" y1="283.9" x2="282" y2="359.5" stroke="#000" stroke-width="1.0" stroke-linecap="butt"/>
<line x1="252.7" y1="334.4" x2="327.5" y2="334.4" stroke="#000" stroke-width="1.0" stroke-linecap="butt"/>
<text x="255.0" y="291.1" font-size="7.85">0.52</text>
<text x="326.5" y="291.1" font-size="7.85" text-anchor="end">2</text>
<rect x="311.0" y="350.8" width="15.8" height="8.2" fill="#fff"/>
<text x="325.9" y="357.4" font-size="7.85" text-anchor="end">61.6</text>
<text x="241.1" y="288.3" font-size="5.2" style="stroke-width:.12px">10</text>
<text x="246.79999999999998" y="285.6" font-size="3.8" style="stroke-width:.12px">4</text>
<text x="241.1" y="306.2" font-size="5.2" style="stroke-width:.12px">10</text>
<text x="246.79999999999998" y="303.5" font-size="3.8" style="stroke-width:.12px">3</text>
<text x="241.1" y="324.1" font-size="5.2" style="stroke-width:.12px">10</text>
<text x="246.79999999999998" y="321.40000000000003" font-size="3.8" style="stroke-width:.12px">2</text>
<text x="241.1" y="342.1" font-size="5.2" style="stroke-width:.12px">10</text>
<text x="246.79999999999998" y="339.40000000000003" font-size="3.8" style="stroke-width:.12px">1</text>
<text x="241.1" y="358.90000000000003" font-size="5.2" style="stroke-width:.12px">10</text>
<text x="246.79999999999998" y="356.20000000000005" font-size="3.8" style="stroke-width:.12px">0</text>
<line x1="251.2" y1="359.5" x2="252.7" y2="359.5" stroke="#000" stroke-width="0.6" stroke-linecap="butt"/>
<line x1="252.7" y1="359.5" x2="252.7" y2="361.0" stroke="#000" stroke-width="0.6" stroke-linecap="butt"/>
<line x1="251.2" y1="340.6" x2="252.7" y2="340.6" stroke="#000" stroke-width="0.6" stroke-linecap="butt"/>
<line x1="271.4" y1="359.5" x2="271.4" y2="361.0" stroke="#000" stroke-width="0.6" stroke-linecap="butt"/>
<line x1="251.2" y1="321.7" x2="252.7" y2="321.7" stroke="#000" stroke-width="0.6" stroke-linecap="butt"/>
<line x1="290.1" y1="359.5" x2="290.1" y2="361.0" stroke="#000" stroke-width="0.6" stroke-linecap="butt"/>
<line x1="251.2" y1="302.79999999999995" x2="252.7" y2="302.79999999999995" stroke="#000" stroke-width="0.6" stroke-linecap="butt"/>
<line x1="308.8" y1="359.5" x2="308.8" y2="361.0" stroke="#000" stroke-width="0.6" stroke-linecap="butt"/>
<line x1="251.2" y1="283.9" x2="252.7" y2="283.9" stroke="#000" stroke-width="0.6" stroke-linecap="butt"/>
<line x1="327.5" y1="359.5" x2="327.5" y2="361.0" stroke="#000" stroke-width="0.6" stroke-linecap="butt"/>
<text x="380.5" y="277.9" font-size="11.2" text-anchor="middle">pH 6.0</text>
<clipPath id="cp3"><rect x="344.9" y="283.9" width="75.70000000000005" height="75.60000000000002"/></clipPath><g clip-path="url(#cp3)">
<path d="M342.00 337.50C343.67 333.92 348.83 337.15 352.00 337.00C355.17 336.85 358.50 336.52 361.00 336.60C363.50 336.68 365.17 336.93 367.00 337.50C368.83 338.07 370.67 338.92 372.00 340.00C373.33 341.08 374.58 342.58 375.00 344.00C375.42 345.42 375.17 347.17 374.50 348.50C373.83 349.83 372.58 350.92 371.00 352.00C369.42 353.08 367.17 354.08 365.00 355.00C362.83 355.92 360.50 356.95 358.00 357.50C355.50 358.05 352.67 358.13 350.00 358.30C347.33 358.47 343.33 361.97 342.00 358.50C340.67 355.03 340.33 341.08 342.00 337.50Z" fill="none" stroke="#000" stroke-width="0.7"/>
<path d="M342.98 338.17C344.53 334.83 349.33 337.84 352.28 337.70C355.22 337.56 358.32 337.25 360.65 337.33C362.97 337.41 364.53 337.64 366.23 338.17C367.94 338.69 369.64 339.48 370.88 340.49C372.12 341.50 373.28 342.89 373.67 344.21C374.06 345.53 373.82 347.15 373.20 348.39C372.58 349.63 371.42 350.64 369.95 351.65C368.48 352.66 366.38 353.59 364.37 354.44C362.36 355.29 360.19 356.25 357.86 356.76C355.54 357.28 352.90 357.35 350.42 357.51C347.94 357.66 344.22 360.92 342.98 357.69C341.74 354.47 341.43 341.50 342.98 338.17Z" fill="rgba(0,0,0,0.13)" stroke="#000" stroke-width="0.7"/>
<path d="M343.96 338.83C345.39 335.75 349.84 338.53 352.56 338.40C355.28 338.27 358.15 337.98 360.30 338.06C362.45 338.13 363.88 338.34 365.46 338.83C367.04 339.32 368.61 340.05 369.76 340.98C370.91 341.91 371.98 343.20 372.34 344.42C372.70 345.64 372.48 347.14 371.91 348.29C371.34 349.44 370.26 350.37 368.90 351.30C367.54 352.23 365.60 353.09 363.74 353.88C361.88 354.67 359.87 355.56 357.72 356.03C355.57 356.50 353.13 356.57 350.84 356.72C348.55 356.86 345.11 359.87 343.96 356.89C342.81 353.91 342.53 341.91 343.96 338.83Z" fill="rgba(0,0,0,0.13)" stroke="#000" stroke-width="0.7"/>
<path d="M344.94 339.50C346.26 336.66 350.34 339.22 352.84 339.10C355.34 338.98 357.97 338.72 359.95 338.78C361.93 338.85 363.24 339.05 364.69 339.50C366.14 339.94 367.59 340.61 368.64 341.47C369.69 342.33 370.68 343.51 371.01 344.63C371.34 345.75 371.14 347.13 370.62 348.19C370.09 349.24 369.10 350.09 367.85 350.95C366.60 351.81 364.82 352.60 363.11 353.32C361.40 354.04 359.56 354.86 357.58 355.30C355.60 355.73 353.37 355.80 351.26 355.93C349.15 356.06 345.99 358.82 344.94 356.08C343.89 353.35 343.62 342.33 344.94 339.50Z" fill="rgba(0,0,0,0.13)" stroke="#000" stroke-width="0.7"/>
<ellipse cx="357.2" cy="346.6" rx="13.00" ry="8.00" fill="rgba(0,0,0,0.38)" stroke="#000" stroke-width="0.5"/>
<ellipse cx="357.2" cy="346.6" rx="11.18" ry="6.88" fill="rgba(0,0,0,0.38)" stroke="#000" stroke-width="0.5"/>
<ellipse cx="357.2" cy="346.6" rx="9.36" ry="5.76" fill="rgba(0,0,0,0.38)" stroke="#000" stroke-width="0.5"/>
<ellipse cx="357.2" cy="346.6" rx="7.54" ry="4.64" fill="rgba(0,0,0,0.38)" stroke="#000" stroke-width="0.5"/>
<ellipse cx="357.2" cy="346.6" rx="5.72" ry="3.52" fill="rgba(0,0,0,0.38)" stroke="#000" stroke-width="0.5"/>
<line x1="355.5" y1="346.6" x2="359" y2="346.6" stroke="#999" stroke-width="0.5" stroke-linecap="butt"/>
<path d="M362 336.8 C366 334.5 370 335 373 338.5 C375.5 341 378 341.5 381 340" fill="none" stroke="#000" stroke-width="0.55"/>
<path d="M380.00 359.00C378.87 358.00 378.45 355.75 378.20 354.00C377.95 352.25 378.03 350.25 378.50 348.50C378.97 346.75 379.83 345.00 381.00 343.50C382.17 342.00 383.83 340.58 385.50 339.50C387.17 338.42 389.33 337.75 391.00 337.00C392.67 336.25 394.37 335.83 395.50 335.00C396.63 334.17 397.13 332.25 397.80 332.00C398.47 331.75 399.08 332.33 399.50 333.50C399.92 334.67 400.30 337.08 400.30 339.00C400.30 340.92 400.05 343.08 399.50 345.00C398.95 346.92 398.00 348.83 397.00 350.50C396.00 352.17 394.83 353.67 393.50 355.00C392.17 356.33 390.42 357.67 389.00 358.50C387.58 359.33 386.50 359.92 385.00 360.00C383.50 360.08 381.13 360.00 380.00 359.00Z" fill="none" stroke="#000" stroke-width="0.7"/>
<path d="M380.86 357.92C379.82 357.01 379.44 354.96 379.22 353.37C378.99 351.78 379.07 349.96 379.49 348.37C379.91 346.77 380.70 345.18 381.76 343.81C382.83 342.45 384.34 341.16 385.86 340.18C387.38 339.19 389.35 338.58 390.87 337.90C392.38 337.22 393.93 336.84 394.96 336.08C395.99 335.32 396.45 333.58 397.05 333.35C397.66 333.12 398.22 333.65 398.60 334.71C398.98 335.78 399.33 337.98 399.33 339.72C399.33 341.46 399.10 343.44 398.60 345.18C398.10 346.92 397.24 348.67 396.32 350.19C395.41 351.70 394.35 353.07 393.14 354.28C391.93 355.49 390.33 356.71 389.05 357.46C387.76 358.22 386.77 358.75 385.40 358.83C384.04 358.91 381.89 358.83 380.86 357.92Z" fill="rgba(0,0,0,0.13)" stroke="#000" stroke-width="0.7"/>
<path d="M381.71 356.84C380.78 356.02 380.44 354.18 380.23 352.74C380.03 351.31 380.10 349.67 380.48 348.23C380.86 346.80 381.57 345.36 382.53 344.13C383.49 342.90 384.85 341.74 386.22 340.85C387.59 339.96 389.36 339.42 390.73 338.80C392.10 338.19 393.49 337.84 394.42 337.16C395.35 336.48 395.76 334.90 396.31 334.70C396.85 334.50 397.36 334.97 397.70 335.93C398.04 336.89 398.36 338.87 398.36 340.44C398.36 342.01 398.15 343.79 397.70 345.36C397.25 346.93 396.47 348.50 395.65 349.87C394.83 351.24 393.87 352.47 392.78 353.56C391.69 354.65 390.25 355.75 389.09 356.43C387.93 357.11 387.04 357.59 385.81 357.66C384.58 357.73 382.64 357.66 381.71 356.84Z" fill="rgba(0,0,0,0.13)" stroke="#000" stroke-width="0.7"/>
<ellipse cx="389.8" cy="345.8" rx="7.80" ry="9.80" fill="rgba(0,0,0,0.38)" stroke="#000" stroke-width="0.5" transform="rotate(25 389.8 345.8)"/>
<ellipse cx="389.8" cy="345.8" rx="6.71" ry="8.43" fill="rgba(0,0,0,0.38)" stroke="#000" stroke-width="0.5" transform="rotate(25 389.8 345.8)"/>
<ellipse cx="389.8" cy="345.8" rx="5.62" ry="7.06" fill="rgba(0,0,0,0.38)" stroke="#000" stroke-width="0.5" transform="rotate(25 389.8 345.8)"/>
<ellipse cx="389.8" cy="345.8" rx="4.52" ry="5.68" fill="rgba(0,0,0,0.38)" stroke="#000" stroke-width="0.5" transform="rotate(25 389.8 345.8)"/>
<ellipse cx="389.8" cy="345.8" rx="3.43" ry="4.31" fill="rgba(0,0,0,0.38)" stroke="#000" stroke-width="0.5" transform="rotate(25 389.8 345.8)"/>
<path d="M381.50 358.00C380.92 357.25 381.92 354.75 382.50 354.00C383.08 353.25 384.33 353.17 385.00 353.50C385.67 353.83 386.33 355.17 386.50 356.00C386.67 356.83 386.83 358.17 386.00 358.50C385.17 358.83 382.08 358.75 381.50 358.00Z" fill="none" stroke="#000" stroke-width="0.5"/>
</g>
<rect x="344.9" y="283.9" width="75.70000000000005" height="75.60000000000002" fill="none" stroke="#000" stroke-width="1.05"/>
<line x1="374.2" y1="283.9" x2="374.2" y2="359.5" stroke="#000" stroke-width="1.0" stroke-linecap="butt"/>
<line x1="344.9" y1="334.4" x2="420.6" y2="334.4" stroke="#000" stroke-width="1.0" stroke-linecap="butt"/>
<text x="347.2" y="291.1" font-size="7.85">0.83</text>
<text x="419.6" y="291.1" font-size="7.85" text-anchor="end">2.28</text>
<rect x="404.1" y="350.8" width="15.8" height="8.2" fill="#fff"/>
<text x="419.0" y="357.4" font-size="7.85" text-anchor="end">34.6</text>
<text x="333.29999999999995" y="288.3" font-size="5.2" style="stroke-width:.12px">10</text>
<text x="339.0" y="285.6" font-size="3.8" style="stroke-width:.12px">4</text>
<text x="333.29999999999995" y="306.2" font-size="5.2" style="stroke-width:.12px">10</text>
<text x="339.0" y="303.5" font-size="3.8" style="stroke-width:.12px">3</text>
<text x="333.29999999999995" y="324.1" font-size="5.2" style="stroke-width:.12px">10</text>
<text x="339.0" y="321.40000000000003" font-size="3.8" style="stroke-width:.12px">2</text>
<text x="333.29999999999995" y="342.1" font-size="5.2" style="stroke-width:.12px">10</text>
<text x="339.0" y="339.40000000000003" font-size="3.8" style="stroke-width:.12px">1</text>
<text x="333.29999999999995" y="358.90000000000003" font-size="5.2" style="stroke-width:.12px">10</text>
<text x="339.0" y="356.20000000000005" font-size="3.8" style="stroke-width:.12px">0</text>
<line x1="343.4" y1="359.5" x2="344.9" y2="359.5" stroke="#000" stroke-width="0.6" stroke-linecap="butt"/>
<line x1="344.9" y1="359.5" x2="344.9" y2="361.0" stroke="#000" stroke-width="0.6" stroke-linecap="butt"/>
<line x1="343.4" y1="340.6" x2="344.9" y2="340.6" stroke="#000" stroke-width="0.6" stroke-linecap="butt"/>
<line x1="363.825" y1="359.5" x2="363.825" y2="361.0" stroke="#000" stroke-width="0.6" stroke-linecap="butt"/>
<line x1="343.4" y1="321.7" x2="344.9" y2="321.7" stroke="#000" stroke-width="0.6" stroke-linecap="butt"/>
<line x1="382.75" y1="359.5" x2="382.75" y2="361.0" stroke="#000" stroke-width="0.6" stroke-linecap="butt"/>
<line x1="343.4" y1="302.79999999999995" x2="344.9" y2="302.79999999999995" stroke="#000" stroke-width="0.6" stroke-linecap="butt"/>
<line x1="401.675" y1="359.5" x2="401.675" y2="361.0" stroke="#000" stroke-width="0.6" stroke-linecap="butt"/>
<line x1="343.4" y1="283.9" x2="344.9" y2="283.9" stroke="#000" stroke-width="0.6" stroke-linecap="butt"/>
<line x1="420.6" y1="359.5" x2="420.6" y2="361.0" stroke="#000" stroke-width="0.6" stroke-linecap="butt"/>
<line x1="60" y1="443" x2="60" y2="557" stroke="#000" stroke-width="1.4" stroke-linecap="butt"/>
<line x1="60" y1="547" x2="231" y2="547" stroke="#000" stroke-width="1.3" stroke-linecap="butt"/>
<text x="56.7" y="551.2" font-size="11.6" text-anchor="end">0</text>
<line x1="57.5" y1="547.2" x2="60" y2="547.2" stroke="#000" stroke-width="1" stroke-linecap="butt"/>
<line x1="58.5" y1="536.8900000000001" x2="60" y2="536.8900000000001" stroke="#000" stroke-width="0.8" stroke-linecap="butt"/>
<text x="56.7" y="530.58" font-size="11.6" text-anchor="end">20</text>
<line x1="57.5" y1="526.58" x2="60" y2="526.58" stroke="#000" stroke-width="1" stroke-linecap="butt"/>
<line x1="58.5" y1="516.2700000000001" x2="60" y2="516.2700000000001" stroke="#000" stroke-width="0.8" stroke-linecap="butt"/>
<text x="56.7" y="509.96000000000004" font-size="11.6" text-anchor="end">40</text>
<line x1="57.5" y1="505.96000000000004" x2="60" y2="505.96000000000004" stroke="#000" stroke-width="1" stroke-linecap="butt"/>
<line x1="58.5" y1="495.65000000000003" x2="60" y2="495.65000000000003" stroke="#000" stroke-width="0.8" stroke-linecap="butt"/>
<text x="56.7" y="489.34000000000003" font-size="11.6" text-anchor="end">60</text>
<line x1="57.5" y1="485.34000000000003" x2="60" y2="485.34000000000003" stroke="#000" stroke-width="1" stroke-linecap="butt"/>
<line x1="58.5" y1="475.03000000000003" x2="60" y2="475.03000000000003" stroke="#000" stroke-width="0.8" stroke-linecap="butt"/>
<text x="56.7" y="468.72" font-size="11.6" text-anchor="end">80</text>
<line x1="57.5" y1="464.72" x2="60" y2="464.72" stroke="#000" stroke-width="1" stroke-linecap="butt"/>
<line x1="58.5" y1="454.41" x2="60" y2="454.41" stroke="#000" stroke-width="0.8" stroke-linecap="butt"/>
<text x="56.7" y="448.1" font-size="11.6" text-anchor="end">100</text>
<line x1="57.5" y1="444.1" x2="60" y2="444.1" stroke="#000" stroke-width="1" stroke-linecap="butt"/>
<text x="23.8" y="495" font-size="10.2" text-anchor="middle" transform="rotate(-90 23.8 495)">Percent of viable</text>
<text x="36.8" y="495.5" font-size="10.2" text-anchor="middle" transform="rotate(-90 36.8 495.5)">eosinophils</text>
<rect x="70.5" y="534.25" width="17.0" height="12.75" fill="#000"/>
<line x1="79.0" y1="533.3" x2="79.0" y2="534.75" stroke="#000" stroke-width="1.1" stroke-linecap="butt"/>
<line x1="76.8" y1="533.3" x2="81.2" y2="533.3" stroke="#000" stroke-width="1.1" stroke-linecap="butt"/>
<rect x="112" y="528.5" width="17.25" height="18.5" fill="#000"/>
<line x1="120.625" y1="526.3" x2="120.625" y2="529.0" stroke="#000" stroke-width="1.1" stroke-linecap="butt"/>
<line x1="118.425" y1="526.3" x2="122.825" y2="526.3" stroke="#000" stroke-width="1.1" stroke-linecap="butt"/>
<rect x="151.75" y="506.75" width="17.0" height="40.25" fill="#000"/>
<line x1="160.25" y1="503" x2="160.25" y2="507.25" stroke="#000" stroke-width="1.1" stroke-linecap="butt"/>
<line x1="158.05" y1="503" x2="162.45" y2="503" stroke="#000" stroke-width="1.1" stroke-linecap="butt"/>
<rect x="190.5" y="475" width="17.5" height="72" fill="#000"/>
<line x1="199.25" y1="469.3" x2="199.25" y2="475.5" stroke="#000" stroke-width="1.1" stroke-linecap="butt"/>
<line x1="197.05" y1="469.3" x2="201.45" y2="469.3" stroke="#000" stroke-width="1.1" stroke-linecap="butt"/>
<text x="120.3" y="518.0" font-size="11" text-anchor="middle" style="stroke-width:.4px">*</text>
<text x="159.5" y="496.3" font-size="11" text-anchor="middle" style="stroke-width:.4px">*</text>
<text x="197.7" y="464.3" font-size="11" text-anchor="middle" style="stroke-width:.4px">*</text>
<line x1="99" y1="547" x2="99" y2="549.5" stroke="#000" stroke-width="1" stroke-linecap="butt"/>
<line x1="138" y1="547" x2="138" y2="549.5" stroke="#000" stroke-width="1" stroke-linecap="butt"/>
<line x1="177" y1="547" x2="177" y2="549.5" stroke="#000" stroke-width="1" stroke-linecap="butt"/>
<line x1="216" y1="547" x2="216" y2="549.5" stroke="#000" stroke-width="1" stroke-linecap="butt"/>
<text x="80" y="561.9" font-size="13.4" text-anchor="middle" textLength="17.4" lengthAdjust="spacingAndGlyphs">7.5</text>
<text x="121" y="561.9" font-size="13.4" text-anchor="middle" textLength="17.4" lengthAdjust="spacingAndGlyphs">7.0</text>
<text x="161.5" y="561.9" font-size="13.4" text-anchor="middle" textLength="17.4" lengthAdjust="spacingAndGlyphs">6.5</text>
<text x="201" y="561.9" font-size="13.4" text-anchor="middle" textLength="17.4" lengthAdjust="spacingAndGlyphs">6.0</text>
<text x="135.5" y="579" font-size="16.8" text-anchor="middle">pH</text>
<line x1="328.3" y1="407" x2="328.3" y2="590.5" stroke="#888" stroke-width="1" stroke-linecap="butt"/>
<line x1="326" y1="588.4" x2="514" y2="588.4" stroke="#888" stroke-width="1" stroke-linecap="butt"/>
<text x="321" y="591.6" font-size="8.5" text-anchor="end" class="v">0</text>
<line x1="326" y1="588.5" x2="328.3" y2="588.5" stroke="#888" stroke-width="0.8" stroke-linecap="butt"/>
<line x1="326.8" y1="565.875" x2="328.3" y2="565.875" stroke="#888" stroke-width="0.8" stroke-linecap="butt"/>
<text x="321" y="546.35" font-size="8.5" text-anchor="end" class="v">40000</text>
<line x1="326" y1="543.25" x2="328.3" y2="543.25" stroke="#888" stroke-width="0.8" stroke-linecap="butt"/>
<line x1="326.8" y1="520.625" x2="328.3" y2="520.625" stroke="#888" stroke-width="0.8" stroke-linecap="butt"/>
<text x="321" y="501.1" font-size="8.5" text-anchor="end" class="v">80000</text>
<line x1="326" y1="498.0" x2="328.3" y2="498.0" stroke="#888" stroke-width="0.8" stroke-linecap="butt"/>
<line x1="326.8" y1="475.375" x2="328.3" y2="475.375" stroke="#888" stroke-width="0.8" stroke-linecap="butt"/>
<text x="321" y="455.85" font-size="8.5" text-anchor="end" class="v">120000</text>
<line x1="326" y1="452.75" x2="328.3" y2="452.75" stroke="#888" stroke-width="0.8" stroke-linecap="butt"/>
<line x1="326.8" y1="430.125" x2="328.3" y2="430.125" stroke="#888" stroke-width="0.8" stroke-linecap="butt"/>
<text x="321" y="410.6" font-size="8.5" text-anchor="end" class="v">160000</text>
<line x1="326" y1="407.5" x2="328.3" y2="407.5" stroke="#888" stroke-width="0.8" stroke-linecap="butt"/>
<line x1="374.7" y1="588.4" x2="374.7" y2="591" stroke="#888" stroke-width="0.8" stroke-linecap="butt"/>
<line x1="421.1" y1="588.4" x2="421.1" y2="591" stroke="#888" stroke-width="0.8" stroke-linecap="butt"/>
<line x1="467.5" y1="588.4" x2="467.5" y2="591" stroke="#888" stroke-width="0.8" stroke-linecap="butt"/>
<line x1="513.8" y1="588.4" x2="513.8" y2="591" stroke="#888" stroke-width="0.8" stroke-linecap="butt"/>
<text x="275.2" y="481.7" font-size="8.62" text-anchor="middle" font-weight="bold" style="stroke-width:.06px" class="v" transform="rotate(-90 275.2 481.7)">number of viable eosinophils</text>
<rect x="339.3" y="416" width="6.4" height="6.4" fill="#fff" stroke="#000" stroke-width="1.1"/>
<rect x="339" y="428.8" width="6.6" height="6.6" fill="#000"/>
<text x="347" y="421.8" font-size="9">pH 7.5</text>
<text x="347" y="434.6" font-size="9">pH 6.0</text>
<rect x="340.1" y="546.2" width="11.599999999999966" height="42.19999999999993" fill="#fff" stroke="#000" stroke-width="1.1"/>
<rect x="351.7" y="512.3" width="14.300000000000011" height="76.10000000000002" fill="#000"/>
<line x1="345.65" y1="540.2" x2="345.65" y2="550.2" stroke="#000" stroke-width="1.4" stroke-linecap="butt"/>
<line x1="341.95" y1="540.2" x2="349.34999999999997" y2="540.2" stroke="#000" stroke-width="1.4" stroke-linecap="butt"/>
<line x1="341.95" y1="550.2" x2="349.34999999999997" y2="550.2" stroke="#000" stroke-width="1.4" stroke-linecap="butt"/>
<line x1="358.85" y1="506.5" x2="358.85" y2="512.8" stroke="#000" stroke-width="1.4" stroke-linecap="butt"/>
<line x1="355.15000000000003" y1="506.5" x2="362.55" y2="506.5" stroke="#000" stroke-width="1.4" stroke-linecap="butt"/>
<rect x="385.8" y="527.6" width="12.599999999999966" height="60.799999999999955" fill="#fff" stroke="#000" stroke-width="1.1"/>
<rect x="398.4" y="491" width="14.0" height="97.39999999999998" fill="#000"/>
<line x1="391.85" y1="516.6" x2="391.85" y2="537.7" stroke="#000" stroke-width="1.4" stroke-linecap="butt"/>
<line x1="388.15000000000003" y1="516.6" x2="395.55" y2="516.6" stroke="#000" stroke-width="1.4" stroke-linecap="butt"/>
<line x1="388.15000000000003" y1="537.7" x2="395.55" y2="537.7" stroke="#000" stroke-width="1.4" stroke-linecap="butt"/>
<line x1="405.4" y1="472" x2="405.4" y2="491.5" stroke="#000" stroke-width="1.4" stroke-linecap="butt"/>
<line x1="401.7" y1="472" x2="409.09999999999997" y2="472" stroke="#000" stroke-width="1.4" stroke-linecap="butt"/>
<rect x="431.9" y="491.6" width="13.100000000000023" height="96.79999999999995" fill="#fff" stroke="#000" stroke-width="1.1"/>
<rect x="445" y="476.6" width="13.5" height="111.79999999999995" fill="#000"/>
<line x1="438.2" y1="468" x2="438.2" y2="513.3" stroke="#000" stroke-width="1.4" stroke-linecap="butt"/>
<line x1="434.5" y1="468" x2="441.9" y2="468" stroke="#000" stroke-width="1.4" stroke-linecap="butt"/>
<line x1="434.5" y1="513.3" x2="441.9" y2="513.3" stroke="#000" stroke-width="1.4" stroke-linecap="butt"/>
<rect x="478.1" y="500.9" width="12.899999999999977" height="87.5" fill="#fff" stroke="#000" stroke-width="1.1"/>
<rect x="491" y="446" width="13.699999999999989" height="142.39999999999998" fill="#000"/>
<line x1="484.3" y1="486.7" x2="484.3" y2="514" stroke="#000" stroke-width="1.4" stroke-linecap="butt"/>
<line x1="480.6" y1="486.7" x2="488.0" y2="486.7" stroke="#000" stroke-width="1.4" stroke-linecap="butt"/>
<line x1="480.6" y1="514" x2="488.0" y2="514" stroke="#000" stroke-width="1.4" stroke-linecap="butt"/>
<line x1="497.85" y1="433.4" x2="497.85" y2="446.5" stroke="#000" stroke-width="1.4" stroke-linecap="butt"/>
<line x1="494.15000000000003" y1="433.4" x2="501.55" y2="433.4" stroke="#000" stroke-width="1.4" stroke-linecap="butt"/>
<line x1="343" y1="500" x2="359" y2="500" stroke="#000" stroke-width="1.4" stroke-linecap="butt"/>
<text x="350.4" y="499.6" font-size="10" text-anchor="middle">*</text>
<line x1="388.7" y1="469.4" x2="405.2" y2="469.4" stroke="#000" stroke-width="1.4" stroke-linecap="butt"/>
<text x="396.8" y="468.5" font-size="10" text-anchor="middle">*</text>
<line x1="481" y1="428.7" x2="497.5" y2="428.7" stroke="#000" stroke-width="1.4" stroke-linecap="butt"/>
<text x="490.6" y="426.1" font-size="10" text-anchor="middle">*</text>
<text x="352.6" y="600" font-size="8.65" text-anchor="middle">untreated</text>
<text x="389.8" y="603.6" font-size="8.2" transform="rotate(-4 389.8 603.6)">10<tspan dy="-2.3" font-size="9.4">-10</tspan></text>
<text x="437.8" y="603.6" font-size="8.2" transform="rotate(-4 437.8 603.6)">10<tspan dy="-2.3" font-size="9.4">-9</tspan></text>
<text x="484.5" y="603.6" font-size="8.2" transform="rotate(-4 484.5 603.6)">10<tspan dy="-2.3" font-size="9.4">-8</tspan></text>
<text x="403.2" y="622" font-size="8.9" font-weight="bold" style="stroke-width:.06px" class="v" textLength="39.4" lengthAdjust="spacing">IL-5 (M)</text>
</svg></body></html>
